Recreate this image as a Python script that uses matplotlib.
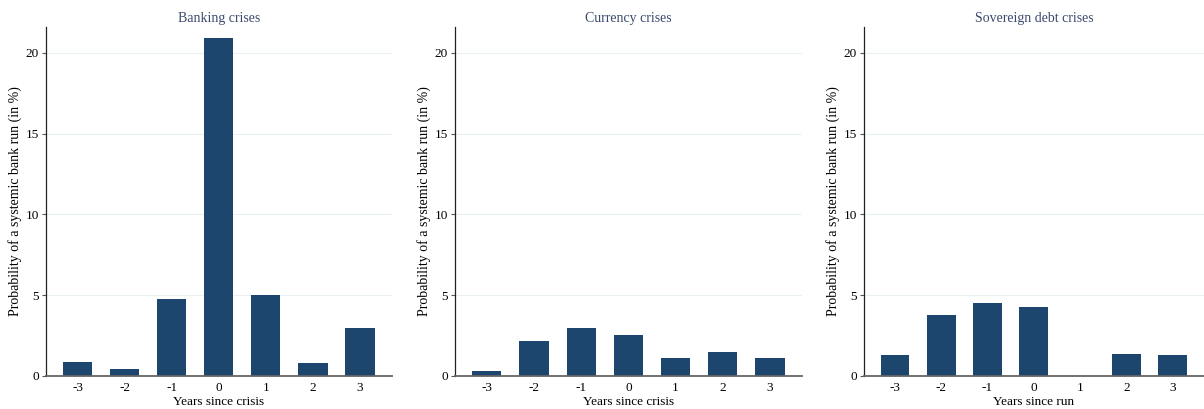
import matplotlib.pyplot as plt
import numpy as np

years = [-3, -2, -1, 0, 1, 2, 3]
year_labels = ["-3", "-2", "-1", "0", "1", "2", "3"]

banking = [0.85, 0.43, 4.77, 20.9, 5.0, 0.8, 3.0]
currency = [0.3, 2.17, 3.0, 2.53, 1.11, 1.5, 1.11]
sovereign = [1.3, 3.78, 4.52, 4.27, 0.0, 1.36, 1.3]

titles = ["Banking crises", "Currency crises", "Sovereign debt crises"]
xlabels = ["Years since crisis", "Years since crisis", "Years since run"]

BAR_COLOR = "#1c466e"
TITLE_COLOR = "#3b4a6e"

plt.rcParams.update({
    "font.family": ["Liberation Serif", "DejaVu Serif"],
    "font.size": 10,
})

fig = plt.figure(figsize=(12.04, 4.09), dpi=100)
positions = [
    [0.0382, 0.0807, 0.2874, 0.853],
    [0.3780, 0.0807, 0.2882, 0.853],
    [0.7176, 0.0807, 0.2824, 0.853],
]

for pos, values, title, xlabel in zip(positions, [banking, currency, sovereign], titles, xlabels):
    ax = fig.add_axes(pos)
    ax.set_axisbelow(True)
    ax.bar(years, values, width=0.62, color=BAR_COLOR, zorder=2)

    ax.set_xlim(-3.67, 3.68)
    ax.set_ylim(0, 21.6)
    ax.set_yticks([0, 5, 10, 15, 20])
    for y in [5, 10, 15, 20]:
        ax.axhline(y, color="#eaeff3", linewidth=0.8, zorder=0)

    ax.set_xticks(years)
    ax.set_xticklabels(year_labels)
    ax.tick_params(axis="x", length=0, pad=4, labelsize=9.5)
    ax.tick_params(axis="y", length=3, width=0.8, color="#555555", pad=2, labelsize=9.5)

    ax.spines["top"].set_visible(False)
    ax.spines["right"].set_visible(False)
    ax.spines["left"].set_color("#222222")
    ax.spines["left"].set_linewidth(0.9)
    ax.spines["bottom"].set_color("#666666")
    ax.spines["bottom"].set_linewidth(1.3)

    ax.set_title(title, color=TITLE_COLOR, fontsize=10, pad=4)
    ax.set_xlabel(xlabel, fontsize=9.5, labelpad=2)
    ax.set_ylabel("Probability of a systemic bank run (in %)", fontsize=10, labelpad=3)

plt.savefig("out.png", dpi=100)
